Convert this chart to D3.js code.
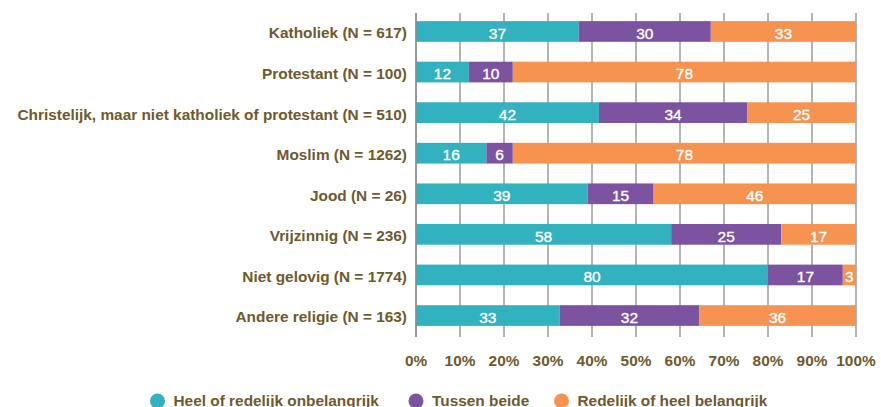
<!DOCTYPE html>
<html>
<head>
<meta charset="utf-8">
<script src="https://cdn.jsdelivr.net/npm/d3@7"></script>
<style>
  body { margin: 0; background: #fff; }
  svg { display: block; }
</style>
</head>
<body>
<div id="chart"></div>
<script>
// categories and values (percentages per row)
var categories = [
  "Katholiek (N = 617)",
  "Protestant (N = 100)",
  "Christelijk, maar niet katholiek of protestant (N = 510)",
  "Moslim (N = 1262)",
  "Jood (N = 26)",
  "Vrijzinnig (N = 236)",
  "Niet gelovig (N = 1774)",
  "Andere religie (N = 163)"
];
var seriesNames = ["Heel of redelijk onbelangrijk", "Tussen beide", "Redelijk of heel belangrijk"];
var onbelangrijk = [37, 12, 42, 16, 39, 58, 80, 33];
var tussen = [30, 10, 34, 6, 15, 25, 17, 32];
var belangrijk = [33, 78, 25, 78, 46, 17, 3, 36];
var tickValues = [0, 0.1, 0.2, 0.3, 0.4, 0.5, 0.6, 0.7, 0.8, 0.9, 1];

var colors = ["#32b2bf", "#7b53a1", "#f69351"];
var textColor = "#6e5a2d";
var fontSize = "15.4px";

var width = 881, height = 407;
var margin = {top: 13, left: 416, right: 25};

var svg = d3.select("#chart")
  .append("svg")
    .attr("width", width)
    .attr("height", height)
    .style("font-family", "'Liberation Sans', Arial, sans-serif");

// build rows for the stack
var rows = categories.map(function(c, i) {
  var r = {cat: c};
  r[seriesNames[0]] = onbelangrijk[i];
  r[seriesNames[1]] = tussen[i];
  r[seriesNames[2]] = belangrijk[i];
  return r;
});

// rows that add up to 101 are scaled to the full bar
var stacked = d3.stack()
  .keys(seriesNames)
  .offset(d3.stackOffsetExpand)(rows);

var x = d3.scaleLinear()
  .domain([0, 1])
  .range([margin.left, width - margin.right]);

var y = d3.scaleBand()
  .domain(categories)
  .range([13, 334])
  .paddingInner(0.49)
  .paddingOuter(0.2);

// gridlines
svg.append("g")
  .selectAll("line")
  .data(tickValues)
  .enter()
  .append("line")
    .attr("x1", function(d) { return x(d); })
    .attr("x2", function(d) { return x(d); })
    .attr("y1", 13)
    .attr("y2", 337)
    .attr("stroke", "#8c8c8c")
    .attr("stroke-width", 1.3);

// bars
var groups = svg.selectAll("g.serie")
  .data(stacked)
  .enter()
  .append("g")
    .attr("class", "serie")
    .attr("fill", function(d, i) { return colors[i]; });

groups.selectAll("rect")
  .data(function(d) { return d; })
  .enter()
  .append("rect")
    .attr("x", function(d) { return x(d[0]); })
    .attr("y", function(d) { return y(d.data.cat); })
    .attr("width", function(d) { return x(d[1]) - x(d[0]); })
    .attr("height", y.bandwidth());

// value labels
stacked.forEach(function(s) {
  svg.append("g")
    .selectAll("text")
    .data(s)
    .enter()
    .append("text")
      .attr("x", function(d) { return (x(d[0]) + x(d[1])) / 2; })
      .attr("y", function(d) { return y(d.data.cat) + y.bandwidth() / 2; })
      .attr("dy", "0.46em")
      .attr("text-anchor", "middle")
      .attr("fill", "#fff")
      .attr("stroke", "#fff")
      .attr("stroke-width", 0.35)
      .style("font-size", "15.5px")
      .text(function(d) { return d.data[s.key]; });
});

// left axis line
svg.append("line")
  .attr("x1", margin.left).attr("x2", margin.left)
  .attr("y1", 13).attr("y2", 337)
  .attr("stroke", "#8c8c8c")
  .attr("stroke-width", 1.3);

// category labels
svg.append("g")
  .selectAll("text")
  .data(categories)
  .enter()
  .append("text")
    .attr("x", 407)
    .attr("y", function(d) { return y(d) + y.bandwidth() / 2; })
    .attr("dy", "0.45em")
    .attr("text-anchor", "end")
    .attr("fill", textColor)
    .style("font-size", fontSize)
    .style("font-weight", "bold")
    .text(function(d) { return d; });

// x tick labels
svg.append("g")
  .selectAll("text")
  .data(tickValues)
  .enter()
  .append("text")
    .attr("x", function(d) { return x(d); })
    .attr("y", 366)
    .attr("text-anchor", "middle")
    .attr("fill", textColor)
    .style("font-size", fontSize)
    .style("font-weight", "bold")
    .text(d3.format(".0%"));

// legend (sits partly below the bottom edge, as in the original)
var legendX = [157.5, 416, 561.5];
var legend = svg.append("g")
  .selectAll("g")
  .data(seriesNames)
  .enter()
  .append("g")
    .attr("transform", function(d, i) { return "translate(" + legendX[i] + ",401)"; });

legend.append("circle")
  .attr("r", 7.5)
  .attr("fill", function(d, i) { return colors[i]; });

legend.append("text")
  .attr("x", 16)
  .attr("y", 4.5)
  .attr("fill", textColor)
  .style("font-size", fontSize)
  .style("font-weight", "bold")
  .text(function(d) { return d; });
</script>
</body>
</html>
